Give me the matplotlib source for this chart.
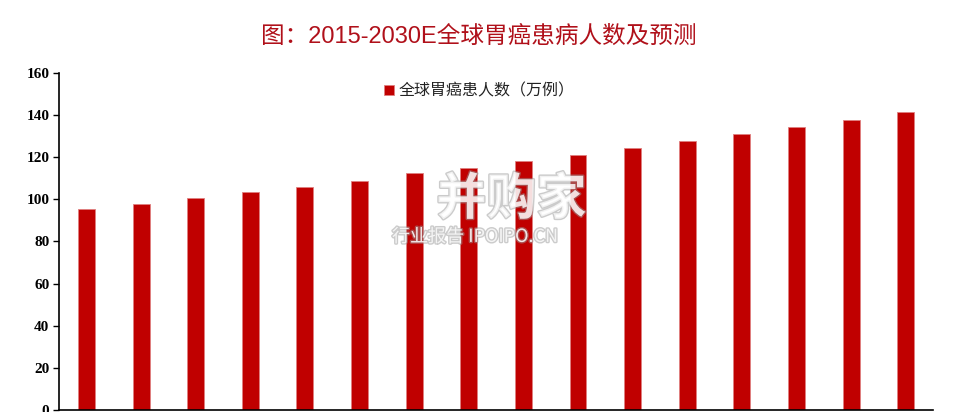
import matplotlib.pyplot as plt
import matplotlib.patheffects as pe

# --- DATA ---
years = ['2015', '2016', '2017', '2018', '2019', '2020', '2021', '2022',
         '2023', '2024', '2025E', '2026E', '2027E', '2028E', '2029E', '2030E']
patients = [95.3, 97.7, 100.5, 103.4, 105.9, 108.6, 112.3, 114.7,
            118.2, 121.1, 124.3, 127.6, 130.9, 134.1, 137.7, 141.4]
y_ticks = [0, 20, 40, 60, 80, 100, 120, 140, 160]

plt.rcParams['font.family'] = ['Noto Sans CJK SC', 'DejaVu Sans']

fig = plt.figure(figsize=(9.54, 4.12), dpi=100)
ax = fig.add_axes([0.062, 0.005, 0.916, 0.818])

ax.bar(range(len(years)), patients, width=0.31, color='#C00000',
       edgecolor='#E08080', linewidth=0.6, label='全球胃癌患人数（万例）')

ax.set_xlim(-0.5, len(years) - 0.5)
ax.set_ylim(0, 160)
ax.set_yticks(y_ticks)
ax.set_yticklabels([str(t) for t in y_ticks], family='Liberation Serif',
                   fontweight='bold', fontsize=11)
ax.set_xticks([])
ax.tick_params(axis='y', direction='out', length=4, width=1, pad=3)
for s in ['top', 'right']:
    ax.spines[s].set_visible(False)
ax.spines['left'].set_linewidth(1.2)
ax.spines['bottom'].set_linewidth(1.2)

fig.text(0.502, 0.91, '图：2015-2030E全球胃癌患病人数及预测', ha='center', va='center',
         fontsize=17, color='#B0101A', family=['Liberation Sans', 'Noto Sans CJK SC'])

leg = ax.legend(loc='upper center', bbox_to_anchor=(0.481, 1.015), frameon=False,
                fontsize=11.5, handlelength=0.6, handleheight=0.6, handletextpad=0.3)
for t in leg.get_texts():
    t.set_color('#222222')

# watermark
shadow = [pe.withStroke(linewidth=2, foreground='#999999', alpha=0.5)]
fig.text(0.536, 0.515, '并购家', ha='center', va='center', fontsize=36,
         fontweight='bold', color='white', alpha=0.75, path_effects=shadow)
fig.text(0.498, 0.425, '行业报告 IPOIPO.CN', ha='center', va='center', fontsize=13,
         color='white', alpha=0.8, path_effects=shadow)

fig.savefig('out.png', dpi=100)
